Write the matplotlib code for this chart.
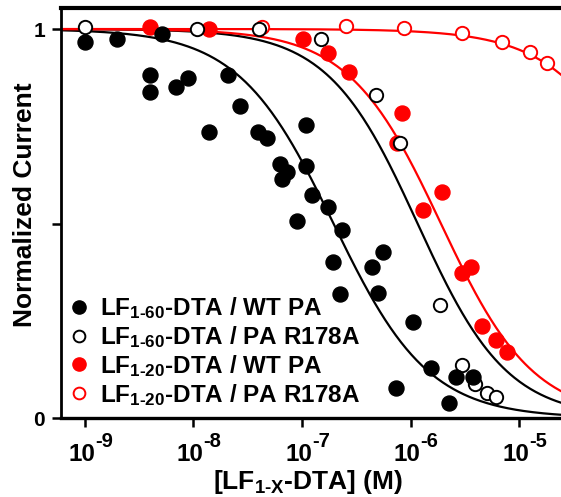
import numpy as np
import matplotlib
matplotlib.use("Agg")
import matplotlib.pyplot as plt
from matplotlib.ticker import FixedLocator, NullFormatter, NullLocator

plt.rcParams['font.family'] = ['Liberation Sans', 'DejaVu Sans']
plt.rcParams['font.weight'] = 'bold'
plt.rcParams['mathtext.fontset'] = 'custom'
plt.rcParams['mathtext.rm'] = 'Liberation Sans:bold'
plt.rcParams['mathtext.it'] = 'Liberation Sans:bold'
plt.rcParams['mathtext.bf'] = 'Liberation Sans:bold'

# ---- data (log10 concentration [M], normalized current) ----
wt60_logx = [-9.000, -8.705, -8.290, -8.401, -8.401, -8.161, -8.051, -7.857, -7.682, -7.571,
             -7.406, -7.323, -7.203, -7.138, -7.184, -6.963, -6.963, -6.908, -7.046, -6.760,
             -6.631, -6.714, -6.253, -6.355, -6.650, -6.300, -5.977, -5.811, -6.134, -5.581,
             -5.424, -5.645]
wt60_y = [0.967, 0.974, 0.987, 0.882, 0.838, 0.851, 0.874, 0.735, 0.882, 0.802,
          0.735, 0.720, 0.653, 0.632, 0.614, 0.753, 0.648, 0.573, 0.506, 0.542,
          0.483, 0.401, 0.427, 0.388, 0.319, 0.321, 0.247, 0.129, 0.077, 0.105,
          0.105, 0.039]

r178_60_logx = [-9.000, -7.968, -7.396, -6.825, -6.318, -6.097, -5.728, -5.525, -5.406, -5.295, -5.212]
r178_60_y = [1.005, 1.000, 1.000, 0.974, 0.830, 0.707, 0.290, 0.136, 0.087, 0.064, 0.054]

wt20_logx = [-8.401, -7.857, -6.991, -6.760, -6.567, -6.078, -6.124, -5.710, -5.885, -5.525,
             -5.442, -5.341, -5.212, -5.111]
wt20_y = [1.005, 1.000, 0.974, 0.938, 0.889, 0.784, 0.707, 0.581, 0.535, 0.373,
          0.388, 0.236, 0.200, 0.170]

r178_20_logx = [-7.369, -6.594, -6.060, -5.525, -5.157, -4.899, -4.742]
r178_20_y = [1.005, 1.008, 1.003, 0.990, 0.967, 0.941, 0.913]

# Hill fits: (log10 IC50, hill slope)
fit_wt60 = (-6.71, 0.99)
fit_r178_60 = (-5.935, 1.05)
fit_wt20 = (-5.72, 1.02)
fit_r178_20 = (-3.71, 0.97)

labels = [r'LF$_{1\text{-}60}$-DTA / WT PA',
          r'LF$_{1\text{-}60}$-DTA / PA R178A',
          r'LF$_{1\text{-}20}$-DTA / WT PA',
          r'LF$_{1\text{-}20}$-DTA / PA R178A']

xticks_exp = [-9, -8, -7, -6, -5]

# ---- figure ----
fig = plt.figure(figsize=(5.61, 4.97), dpi=100)
ax = fig.add_axes([61/561, 1-418/497, 1-61/561, (418-8)/497])

def hill(logx, p):
    c, n = p
    return 1.0/(1.0 + 10**(n*(np.asarray(logx) - c)))

xx = np.linspace(-9.3, -4.5, 400)
ax.plot(10**xx, hill(xx, fit_wt60), color='black', lw=1.6, zorder=2)
ax.plot(10**xx, hill(xx, fit_r178_60), color='black', lw=1.6, zorder=2)
ax.plot(10**xx, hill(xx, fit_wt20), color='#ff0000', lw=1.6, zorder=2)
ax.plot(10**xx, hill(xx, fit_r178_20), color='#ff0000', lw=1.6, zorder=2)

ms = 10.8
h1, = ax.plot(10**np.array(wt20_logx), wt20_y, 'o', color='#ff0000', ms=ms, mec='#ff0000', zorder=3)
h4, = ax.plot(10**np.array(r178_20_logx), r178_20_y, 'o', mfc='white', mec='#ff0000', mew=1.4, ms=ms-1.2, zorder=4)
h2, = ax.plot(10**np.array(r178_60_logx), r178_60_y, 'o', mfc='white', mec='black', mew=1.4, ms=ms-1.2, zorder=5)
h0, = ax.plot(10**np.array(wt60_logx), wt60_y, 'o', color='black', ms=ms, zorder=6)

ax.set_xscale('log')
ax.set_xlim(10**-9.221, 10**-4.613)
ax.set_ylim(0, 1.054)

ax.xaxis.set_major_locator(FixedLocator([10.0**e for e in xticks_exp]))
ax.xaxis.set_minor_locator(NullLocator())
ax.xaxis.set_major_formatter(NullFormatter())
ax.xaxis.set_minor_formatter(NullFormatter())
for e in xticks_exp:
    ax.annotate('10', xy=(10.0**e, 0), xycoords=('data', 'axes fraction'),
                xytext=(10, -43), textcoords='offset pixels', ha='right', va='baseline',
                fontsize=17.5, fontweight='bold', annotation_clip=False)
    ax.annotate('-%d' % (-e), xy=(10.0**e, 0), xycoords=('data', 'axes fraction'),
                xytext=(10, -29), textcoords='offset pixels', ha='left', va='baseline',
                fontsize=14.5, fontweight='bold', annotation_clip=False)

ax.set_yticks([0, 0.5, 1])
ax.set_yticklabels(['0', '', '1'])

ax.spines['left'].set_linewidth(2.0)
ax.spines['bottom'].set_linewidth(2.4)
ax.spines['top'].set_linewidth(3.0)
ax.spines['right'].set_visible(False)
ax.tick_params(axis='both', direction='out', width=1.8, length=6.5)
ax.tick_params(axis='y', labelsize=15, pad=5)

ax.set_ylabel('Normalized Current', fontsize=19, fontweight='bold')
ax.yaxis.set_label_coords(-0.047, 0.521)
ax.set_xlabel(r'[LF$_{1\text{-}X}$-DTA] (M)', fontsize=19, fontweight='bold')
ax.xaxis.set_label_coords(0.495, -0.122)

leg = ax.legend([h0, h2, h1, h4], labels, loc='lower left', bbox_to_anchor=(-0.012, -0.016),
                frameon=False, fontsize=17.5, markerscale=0.88, handlelength=0.6,
                handletextpad=0.55, labelspacing=0.12, borderaxespad=0.3)

fig.savefig('out.png', dpi=100)
